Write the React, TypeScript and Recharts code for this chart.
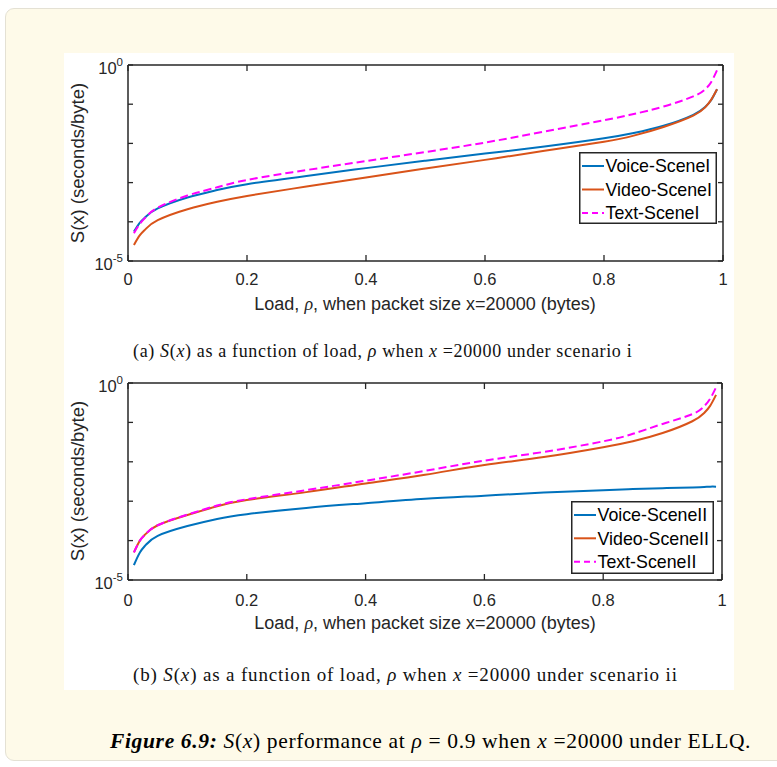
import React from 'react';
import { LineChart, Line, XAxis, YAxis, Legend } from 'recharts';

// ---------- data ----------
const rho = [0.01, 0.02, 0.03, 0.05, 0.1, 0.15, 0.2, 0.3, 0.4, 0.5, 0.6, 0.7, 0.8, 0.85, 0.9, 0.95, 0.97, 0.98, 0.99];

const voiceI = [5.62e-5, 9.55e-5, 1.35e-4, 2.19e-4, 4.17e-4, 6.46e-4, 9.12e-4, 1.48e-3, 2.34e-3, 3.63e-3, 5.5e-3, 8.32e-3, 1.35e-2, 1.84e-2, 2.82e-2, 5.37e-2, 8.51e-2, 0.126, 0.24];
const videoI = [2.57e-5, 4.57e-5, 6.61e-5, 1.1e-4, 2.09e-4, 3.24e-4, 4.57e-4, 7.94e-4, 1.35e-3, 2.29e-3, 3.8e-3, 6.46e-3, 1.1e-2, 1.58e-2, 2.63e-2, 5.13e-2, 8.32e-2, 0.129, 0.24];
const textI = [5.13e-5, 8.91e-5, 1.32e-4, 2.29e-4, 4.68e-4, 7.59e-4, 1.17e-3, 2.09e-3, 3.55e-3, 6.03e-3, 1.05e-2, 2.0e-2, 3.89e-2, 5.62e-2, 8.71e-2, 0.158, 0.24, 0.363, 0.741];

const voiceII = [2.4e-5, 5.01e-5, 7.76e-5, 1.32e-4, 2.34e-4, 3.55e-4, 4.68e-4, 6.76e-4, 8.91e-4, 1.15e-3, 1.38e-3, 1.66e-3, 1.91e-3, 2.04e-3, 2.14e-3, 2.24e-3, 2.29e-3, 2.34e-3, 2.34e-3];
const videoII = [5.01e-5, 1.0e-4, 1.48e-4, 2.45e-4, 4.47e-4, 7.41e-4, 1.07e-3, 1.7e-3, 2.82e-3, 4.68e-3, 8.32e-3, 1.32e-2, 2.34e-2, 3.31e-2, 5.37e-2, 0.107, 0.174, 0.263, 0.501];
const textII = [5.01e-5, 1.0e-4, 1.48e-4, 2.45e-4, 4.57e-4, 7.76e-4, 1.12e-3, 1.91e-3, 3.31e-3, 5.89e-3, 1.07e-2, 1.78e-2, 3.31e-2, 5.13e-2, 9.12e-2, 0.162, 0.257, 0.398, 0.776];

const xTicks = [0, 0.2, 0.4, 0.6, 0.8, 1];
const xTickLabels = ['0', '0.2', '0.4', '0.6', '0.8', '1'];
const yTicks = [1e-5, 1e-4, 1e-3, 1e-2, 1e-1, 1];
const yTickExponents = ['-5', '', '', '', '', '0'];

const namesI = ['Voice-SceneI', 'Video-SceneI', 'Text-SceneI'];
const namesII = ['Voice-SceneII', 'Video-SceneII', 'Text-SceneII'];

// ---------- styles ----------
const BLUE = '#0072BD';
const ORANGE = '#D95319';
const MAGENTA = '#FF00FF';
const AXIS = '#262626';
const SANS = '"Liberation Sans", Arial, Helvetica, sans-serif';
const SERIF = '"Liberation Serif", "Times New Roman", serif';
const TICK_FS = 16.5;
const DASH = '8 4';

const makeBottomTick = (labelOffset: number) => (props: any) => {
  const { x, y, payload } = props;
  const idx = xTicks.indexOf(payload.value);
  return (
    <g>
      <line x1={x} y1={y} x2={x} y2={y - 6} stroke={AXIS} strokeWidth={1.3} />
      <text x={x} y={y + labelOffset} textAnchor="middle" fontSize={TICK_FS} fontFamily={SANS} fill={AXIS}>
        {idx >= 0 ? xTickLabels[idx] : ''}
      </text>
    </g>
  );
};

const TopTick = (props: any) => {
  const { x, y } = props;
  return <line x1={x} y1={y} x2={x} y2={y + 6} stroke={AXIS} strokeWidth={1.3} />;
};

const LeftTick = (props: any) => {
  const { x, y, payload } = props;
  const idx = yTicks.findIndex((t) => Math.abs(t - payload.value) / t < 1e-6);
  const exp = idx >= 0 ? yTickExponents[idx] : '';
  return (
    <g>
      <line x1={x} y1={y} x2={x + 5} y2={y} stroke={AXIS} strokeWidth={1.3} />
      {exp !== '' && (
        <text x={x - 5} y={y + 9} textAnchor="end" fontSize={TICK_FS} fontFamily={SANS} fill={AXIS}>
          10
          <tspan dy={-8} fontSize={11.5}>{exp}</tspan>
        </text>
      )}
    </g>
  );
};

const RightTick = (props: any) => {
  const { x, y } = props;
  return <line x1={x} y1={y} x2={x - 5} y2={y} stroke={AXIS} strokeWidth={1.3} />;
};

type PanelProps = {
  top: number;
  height: number;
  plotLeft: number;
  plotRight: number;
  plotTop: number;
  plotBottom: number;
  voice: number[];
  video: number[];
  text: number[];
  names: string[];
  legendLeft: number;
  legendTop: number;
  legendWidth: number;
  legendHeight: number;
  legendRows: number[];
  tickLabelOffset: number;
};

function LegendBox({ w, h, names, rows }: { w: number; h: number; names: string[]; rows: number[] }) {
  const colors = [BLUE, ORANGE, MAGENTA];
  return (
    <svg width={w} height={h} style={{ display: 'block' }}>
      <rect x={0.75} y={0.75} width={w - 1.5} height={h - 1.5} fill="#fff" stroke={AXIS} strokeWidth={1.5} />
      {names.map((n, i) => (
        <g key={n}>
          <line
            x1={3}
            x2={25}
            y1={rows[i]}
            y2={rows[i]}
            stroke={colors[i]}
            strokeWidth={2}
            strokeDasharray={i === 2 ? '6 4' : undefined}
          />
          <text x={26.5} y={rows[i] + 6.3} fontSize={17.8} fontFamily={SANS} fill="#000">
            {n}
          </text>
        </g>
      ))}
    </svg>
  );
}

function Panel(p: PanelProps) {
  const data = rho.map((r, i) => ({ rho: r, voice: p.voice[i], video: p.video[i], text: p.text[i] }));
  const W = 777;
  const xBottomH = 40;
  const xTopH = 5;
  const yLeftW = 60;
  const yRightW = 5;
  const margin = {
    top: p.plotTop - p.top - xTopH,
    bottom: p.top + p.height - p.plotBottom - xBottomH,
    left: p.plotLeft - yLeftW,
    right: W - p.plotRight - yRightW,
  };
  const axisLine = { stroke: AXIS, strokeWidth: 1.5 };
  return (
    <div style={{ position: 'absolute', left: 0, top: p.top }}>
      <LineChart width={W} height={p.height} data={data} margin={margin}>
        <XAxis
          xAxisId="b"
          dataKey="rho"
          type="number"
          domain={[0, 1]}
          ticks={xTicks}
          interval={0}
          allowDataOverflow
          height={xBottomH}
          tickSize={0}
          tickMargin={0}
          tickLine={false}
          axisLine={axisLine}
          tick={makeBottomTick(p.tickLabelOffset)}
        />
        <XAxis
          xAxisId="t"
          orientation="top"
          dataKey="rho"
          type="number"
          domain={[0, 1]}
          ticks={xTicks}
          interval={0}
          allowDataOverflow
          height={xTopH}
          tickSize={0}
          tickMargin={0}
          tickLine={false}
          axisLine={axisLine}
          tick={TopTick}
        />
        <YAxis
          yAxisId="l"
          type="number"
          scale="log"
          domain={[1e-5, 1]}
          ticks={yTicks}
          interval={0}
          allowDataOverflow
          width={yLeftW}
          tickSize={0}
          tickMargin={0}
          tickLine={false}
          axisLine={axisLine}
          tick={LeftTick}
        />
        <YAxis
          yAxisId="r"
          orientation="right"
          type="number"
          scale="log"
          domain={[1e-5, 1]}
          ticks={yTicks}
          interval={0}
          allowDataOverflow
          width={yRightW}
          tickSize={0}
          tickMargin={0}
          tickLine={false}
          axisLine={axisLine}
          tick={RightTick}
        />
        <Line xAxisId="b" yAxisId="l" type="natural" dataKey="voice" name={p.names[0]} stroke={BLUE} strokeWidth={2} dot={false} isAnimationActive={false} />
        <Line xAxisId="b" yAxisId="l" type="natural" dataKey="video" name={p.names[1]} stroke={ORANGE} strokeWidth={2} dot={false} isAnimationActive={false} />
        <Line xAxisId="b" yAxisId="l" type="natural" dataKey="text" name={p.names[2]} stroke={MAGENTA} strokeWidth={2} strokeDasharray={DASH} dot={false} isAnimationActive={false} />
        <Legend
          layout="horizontal"
          verticalAlign="middle"
          align="center"
          wrapperStyle={{
            position: 'absolute',
            left: p.legendLeft,
            top: p.legendTop - p.top,
            width: p.legendWidth,
            height: p.legendHeight,
            margin: 0,
            padding: 0,
          }}
          content={() => <LegendBox w={p.legendWidth} h={p.legendHeight} names={p.names} rows={p.legendRows} />}
        />
      </LineChart>
    </div>
  );
}

export default function App() {
  return (
    <div
      style={{
        position: 'absolute',
        left: 0,
        top: 0,
        width: 777,
        height: 767,
        background: '#ffffff',
        overflow: 'hidden',
        fontFamily: SANS,
      }}
    >
      <div
        style={{
          position: 'absolute',
          left: 5,
          top: 8,
          width: 820,
          height: 753,
          background: '#fefae9',
          border: '1.5px solid #e4e1d4',
          borderRadius: 9,
          boxSizing: 'border-box',
        }}
      />
      <div style={{ position: 'absolute', left: 64, top: 53, width: 670, height: 637, background: '#ffffff' }} />

      <Panel
        top={0}
        height={340}
        plotLeft={128}
        plotRight={723}
        plotTop={65}
        plotBottom={261}
        voice={voiceI}
        video={videoI}
        text={textI}
        names={namesI}
        legendLeft={579}
        legendTop={152}
        legendWidth={138}
        legendHeight={72}
        legendRows={[14, 37.5, 61]}
        tickLabelOffset={24}
      />
      <Panel
        top={320}
        height={340}
        plotLeft={128}
        plotRight={722}
        plotTop={383}
        plotBottom={580}
        voice={voiceII}
        video={videoII}
        text={textII}
        names={namesII}
        legendLeft={571}
        legendTop={501}
        legendWidth={143}
        legendHeight={73}
        legendRows={[14, 37.3, 60.7]}
        tickLabelOffset={26}
      />

      <svg width={777} height={767} style={{ position: 'absolute', left: 0, top: 0, pointerEvents: 'none' }}>
        <text transform="translate(84,163) rotate(-90)" textAnchor="middle" fontSize={18.5} fontFamily={SANS} fill={AXIS}>
          S(x) (seconds/byte)
        </text>
        <text transform="translate(84,481) rotate(-90)" textAnchor="middle" fontSize={18.5} fontFamily={SANS} fill={AXIS}>
          S(x) (seconds/byte)
        </text>
        <text x={425} y={310} textAnchor="middle" fontSize={18} fontFamily={SANS} fill={AXIS}>
          Load, <tspan fontFamily={SERIF} fontStyle="italic">ρ</tspan>, when packet size x=20000 (bytes)
        </text>
        <text x={425} y={629} textAnchor="middle" fontSize={18} fontFamily={SANS} fill={AXIS}>
          Load, <tspan fontFamily={SERIF} fontStyle="italic">ρ</tspan>, when packet size x=20000 (bytes)
        </text>
        <text x={133} y={357} fontSize={18} fontFamily={SERIF} fill="#111" letterSpacing={0.65}>
          (a) <tspan fontStyle="italic">S</tspan>(<tspan fontStyle="italic">x</tspan>) as a function of load,{' '}
          <tspan fontStyle="italic">ρ</tspan> when <tspan fontStyle="italic">x</tspan> =20000 under scenario i
        </text>
        <text x={133} y={681} fontSize={19} fontFamily={SERIF} fill="#111" letterSpacing={0.85}>
          (b) <tspan fontStyle="italic">S</tspan>(<tspan fontStyle="italic">x</tspan>) as a function of load,{' '}
          <tspan fontStyle="italic">ρ</tspan> when <tspan fontStyle="italic">x</tspan> =20000 under scenario ii
        </text>
        <text x={110} y={748} fontSize={21.5} fontFamily={SERIF} fill="#000" letterSpacing={0.65}>
          <tspan fontWeight="bold" fontStyle="italic">Figure 6.9:</tspan> <tspan fontStyle="italic">S</tspan>(
          <tspan fontStyle="italic">x</tspan>) performance at <tspan fontStyle="italic">ρ</tspan> = 0.9 when{' '}
          <tspan fontStyle="italic">x</tspan> =20000 under ELLQ.
        </text>
      </svg>
    </div>
  );
}
